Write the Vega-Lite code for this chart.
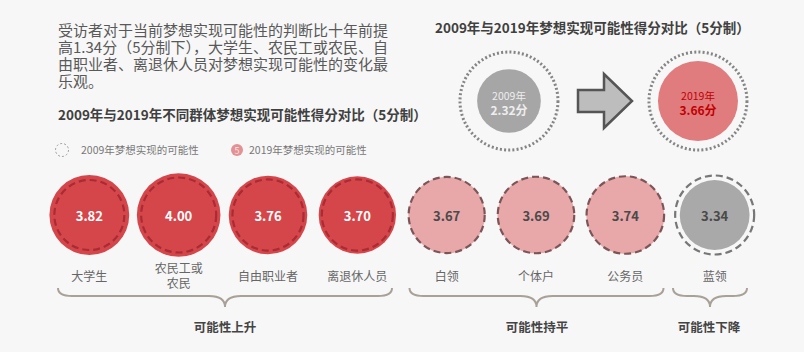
{
  "$schema": "https://vega.github.io/schema/vega-lite/v6.json",
  "width": 804,
  "height": 352,
  "autosize": {"type": "fit", "contains": "padding"},
  "padding": 0,
  "background": "#f7f7f7",
  "config": {"view": {"stroke": null}, "font": "Noto Sans CJK SC", "text": {"font": "Noto Sans CJK SC"}},
  "datasets": {
    "groups": [
      {"group": "大学生", "trend": "可能性上升", "score2019": 3.82, "score2009": 3.35},
      {"group": "农民工或\n农民", "trend": "可能性上升", "score2019": 4.0, "score2009": 3.59},
      {"group": "自由职业者", "trend": "可能性上升", "score2019": 3.76, "score2009": 3.4},
      {"group": "离退休人员", "trend": "可能性上升", "score2019": 3.7, "score2009": 3.4},
      {"group": "白领", "trend": "可能性持平", "score2019": 3.67, "score2009": 3.64},
      {"group": "个体户", "trend": "可能性持平", "score2019": 3.69, "score2009": 3.66},
      {"group": "公务员", "trend": "可能性持平", "score2019": 3.74, "score2009": 3.71},
      {"group": "蓝领", "trend": "可能性下降", "score2019": 3.34, "score2009": 3.78}
    ],
    "overall": [
      {"year": 2009, "yearLabel": "2009年", "score": 2.32, "scoreLabel": "2.32分"},
      {"year": 2019, "yearLabel": "2019年", "score": 3.66, "scoreLabel": "3.66分"}
    ]
  },
  "layer": [
    {
      "data": {"name": "groups"},
      "encoding": {
        "x": {"field": "group", "type": "nominal", "sort": null, "scale": {"type": "point", "padding": 1.115}, "axis": null},
        "y": {"datum": 215, "type": "quantitative", "scale": {"domain": [0, 352], "nice": false, "zero": false, "reverse": true}, "axis": null}
      },
      "layer": [
        {
          "mark": {"type": "point", "shape": "circle", "filled": true, "opacity": 1, "strokeWidth": 0},
          "encoding": {
            "size": {"field": "score2019", "type": "quantitative", "scale": {"type": "pow", "exponent": 2, "domain": [0, 4], "range": [0, 6989], "nice": false}, "legend": null},
            "fill": {"field": "trend", "type": "nominal", "scale": {"domain": ["可能性上升", "可能性持平", "可能性下降"], "range": ["#d5464a", "#e8a7a8", "#a9a9a9"]}, "legend": null}
          }
        },
        {
          "mark": {"type": "point", "shape": "circle", "filled": false, "opacity": 1, "strokeWidth": 2.2, "strokeDash": [7, 4]},
          "encoding": {
            "size": {"field": "score2009", "type": "quantitative", "legend": null},
            "stroke": {"field": "trend", "type": "nominal", "scale": {"domain": ["可能性上升", "可能性持平", "可能性下降"], "range": ["#a92b33", "#7c5558", "#777777"]}, "legend": null}
          }
        },
        {
          "mark": {"type": "text", "fontSize": 13, "fontWeight": "bold", "baseline": "middle"},
          "encoding": {
            "y": {"datum": 216.5, "type": "quantitative", "scale": {"domain": [0, 352], "nice": false, "zero": false, "reverse": true}, "axis": null},
            "text": {"field": "score2019", "type": "quantitative", "format": ".2f"},
            "color": {"field": "trend", "type": "nominal", "scale": {"domain": ["可能性上升", "可能性持平", "可能性下降"], "range": ["#ffffff", "#4a4a4a", "#4a4a4a"]}, "legend": null}
          }
        },
        {
          "transform": [{"filter": "indexof(datum.group, '\\n') < 0"}],
          "mark": {"type": "text", "fontSize": 12, "color": "#666666", "baseline": "middle"},
          "encoding": {
            "y": {"datum": 276.5, "type": "quantitative", "scale": {"domain": [0, 352], "nice": false, "zero": false, "reverse": true}, "axis": null},
            "text": {"field": "group", "type": "nominal"}
          }
        },
        {
          "transform": [{"filter": "indexof(datum.group, '\\n') >= 0"}],
          "mark": {"type": "text", "fontSize": 12, "color": "#666666", "baseline": "middle", "lineBreak": "\n", "lineHeight": 15},
          "encoding": {
            "y": {"datum": 269, "type": "quantitative", "scale": {"domain": [0, 352], "nice": false, "zero": false, "reverse": true}, "axis": null},
            "text": {"field": "group", "type": "nominal"}
          }
        }
      ]
    },
    {
      "data": {"name": "overall"},
      "encoding": {
        "x": {"field": "year", "type": "quantitative", "scale": {"domain": [1982.07, 2024.61], "nice": false, "zero": false}, "axis": null},
        "y": {"datum": 101, "type": "quantitative", "scale": {"domain": [0, 352], "nice": false, "zero": false, "reverse": true}, "axis": null}
      },
      "layer": [
        {
          "mark": {"type": "point", "shape": "circle", "filled": false, "opacity": 1, "size": 9604, "stroke": "#858585", "strokeWidth": 3, "strokeDash": [2, 2.2]}
        },
        {
          "mark": {"type": "point", "shape": "circle", "filled": true, "opacity": 1, "strokeWidth": 0},
          "encoding": {
            "size": {"field": "score", "type": "quantitative", "scale": {"domain": [0, 3.66], "range": [0, 6400], "nice": false}, "legend": null},
            "fill": {"field": "yearLabel", "type": "nominal", "scale": {"domain": ["2009年", "2019年"], "range": ["#a6a6a6", "#e07b7e"]}, "legend": null}
          }
        },
        {
          "mark": {"type": "text", "fontSize": 10.5, "baseline": "middle"},
          "encoding": {
            "y": {"datum": 97, "type": "quantitative", "scale": {"domain": [0, 352], "nice": false, "zero": false, "reverse": true}, "axis": null},
            "text": {"field": "yearLabel", "type": "nominal"},
            "color": {"field": "yearLabel", "type": "nominal", "scale": {"domain": ["2009年", "2019年"], "range": ["#eeeeee", "#c00000"]}, "legend": null}
          }
        },
        {
          "mark": {"type": "text", "fontSize": 12, "fontWeight": "bold", "baseline": "middle"},
          "encoding": {
            "y": {"datum": 110.5, "type": "quantitative", "scale": {"domain": [0, 352], "nice": false, "zero": false, "reverse": true}, "axis": null},
            "text": {"field": "scoreLabel", "type": "nominal"},
            "color": {"field": "yearLabel", "type": "nominal", "legend": null}
          }
        }
      ]
    },
    {
      "data": {"values": [{}]},
      "layer": [
        {
          "mark": {"type": "point", "filled": true, "opacity": 1, "size": 4, "fill": "#bdbdbd", "stroke": "#555555", "strokeWidth": 2.5, "strokeJoin": "miter", "shape": "M-27,-11L-1,-11L-1,-27L27,0L-1,27L-1,11L-27,11Z"},
          "encoding": {
            "x": {"datum": 605, "type": "quantitative", "scale": {"domain": [0, 804], "nice": false, "zero": false}, "axis": null},
            "y": {"datum": 101, "type": "quantitative", "scale": {"domain": [0, 352], "nice": false, "zero": false, "reverse": true}, "axis": null}
          }
        },
        {
          "mark": {"type": "text", "align": "left", "baseline": "alphabetic", "fontSize": 15, "lineHeight": 17, "color": "#595959",
            "text": ["受访者对于当前梦想实现可能性的判断比十年前提", "高1.34分（5分制下），大学生、农民工或农民、自", "由职业者、离退休人员对梦想实现可能性的变化最", "乐观。"]},
          "encoding": {
            "x": {"datum": 58, "type": "quantitative", "axis": null},
            "y": {"datum": 36, "type": "quantitative", "axis": null}
          }
        },
        {
          "mark": {"type": "text", "align": "left", "baseline": "middle", "fontSize": 13.5, "fontWeight": "bold", "color": "#404040", "text": "2009年与2019年不同群体梦想实现可能性得分对比（5分制）"},
          "encoding": {
            "x": {"datum": 58, "type": "quantitative", "axis": null},
            "y": {"datum": 115.5, "type": "quantitative", "axis": null}
          }
        },
        {
          "mark": {"type": "text", "align": "left", "baseline": "middle", "fontSize": 13.5, "fontWeight": "bold", "color": "#404040", "text": "2009年与2019年梦想实现可能性得分对比（5分制）"},
          "encoding": {
            "x": {"datum": 435, "type": "quantitative", "axis": null},
            "y": {"datum": 29, "type": "quantitative", "axis": null}
          }
        },
        {
          "mark": {"type": "point", "shape": "circle", "filled": false, "opacity": 1, "size": 169, "stroke": "#a0a0a0", "strokeWidth": 1, "strokeDash": [2, 2]},
          "encoding": {
            "x": {"datum": 62, "type": "quantitative", "axis": null},
            "y": {"datum": 150, "type": "quantitative", "axis": null}
          }
        },
        {
          "mark": {"type": "text", "align": "left", "baseline": "middle", "fontSize": 10.5, "color": "#777777", "text": "2009年梦想实现的可能性"},
          "encoding": {
            "x": {"datum": 81, "type": "quantitative", "axis": null},
            "y": {"datum": 151, "type": "quantitative", "axis": null}
          }
        },
        {
          "mark": {"type": "point", "shape": "circle", "filled": true, "opacity": 1, "size": 144, "fill": "#e39194", "strokeWidth": 0},
          "encoding": {
            "x": {"datum": 237, "type": "quantitative", "axis": null},
            "y": {"datum": 150, "type": "quantitative", "axis": null}
          }
        },
        {
          "mark": {"type": "text", "align": "center", "baseline": "middle", "fontSize": 9, "color": "#fbe6e6", "text": "5"},
          "encoding": {
            "x": {"datum": 237, "type": "quantitative", "axis": null},
            "y": {"datum": 150.5, "type": "quantitative", "axis": null}
          }
        },
        {
          "mark": {"type": "text", "align": "left", "baseline": "middle", "fontSize": 10.5, "color": "#777777", "text": "2019年梦想实现的可能性"},
          "encoding": {
            "x": {"datum": 249, "type": "quantitative", "axis": null},
            "y": {"datum": 151, "type": "quantitative", "axis": null}
          }
        },
        {
          "mark": {"type": "point", "filled": false, "opacity": 1, "size": 4, "stroke": "#a8a197", "strokeWidth": 2, "shape": "M-167,-8C-167,-2,-161,0,-153,0L-16,0C-6,0,0,3,0,11C0,3,6,0,16,0L153,0C161,0,167,-2,167,-8"},
          "encoding": {
            "x": {"datum": 225, "type": "quantitative", "axis": null},
            "y": {"datum": 296, "type": "quantitative", "axis": null}
          }
        },
        {
          "mark": {"type": "point", "filled": false, "opacity": 1, "size": 4, "stroke": "#a8a197", "strokeWidth": 2, "shape": "M-127,-8C-127,-2,-121,0,-113,0L-16,0C-6,0,0,3,0,11C0,3,6,0,16,0L113,0C121,0,127,-2,127,-8"},
          "encoding": {
            "x": {"datum": 536.5, "type": "quantitative", "axis": null},
            "y": {"datum": 296, "type": "quantitative", "axis": null}
          }
        },
        {
          "mark": {"type": "point", "filled": false, "opacity": 1, "size": 4, "stroke": "#a8a197", "strokeWidth": 2, "shape": "M-37,-8C-37,-2,-31,0,-23,0L-16,0C-6,0,0,3,0,11C0,3,6,0,16,0L23,0C31,0,37,-2,37,-8"},
          "encoding": {
            "x": {"datum": 710, "type": "quantitative", "axis": null},
            "y": {"datum": 296, "type": "quantitative", "axis": null}
          }
        },
        {
          "mark": {"type": "text", "align": "center", "baseline": "middle", "fontSize": 12.5, "fontWeight": "bold", "color": "#444444", "text": "可能性上升"},
          "encoding": {
            "x": {"datum": 225, "type": "quantitative", "axis": null},
            "y": {"datum": 328, "type": "quantitative", "axis": null}
          }
        },
        {
          "mark": {"type": "text", "align": "center", "baseline": "middle", "fontSize": 12.5, "fontWeight": "bold", "color": "#444444", "text": "可能性持平"},
          "encoding": {
            "x": {"datum": 537, "type": "quantitative", "axis": null},
            "y": {"datum": 328, "type": "quantitative", "axis": null}
          }
        },
        {
          "mark": {"type": "text", "align": "center", "baseline": "middle", "fontSize": 12.5, "fontWeight": "bold", "color": "#444444", "text": "可能性下降"},
          "encoding": {
            "x": {"datum": 709, "type": "quantitative", "axis": null},
            "y": {"datum": 328, "type": "quantitative", "axis": null}
          }
        }
      ]
    }
  ],
  "resolve": {"scale": {"x": "independent", "size": "independent", "fill": "independent", "stroke": "independent", "color": "independent"}}
}
